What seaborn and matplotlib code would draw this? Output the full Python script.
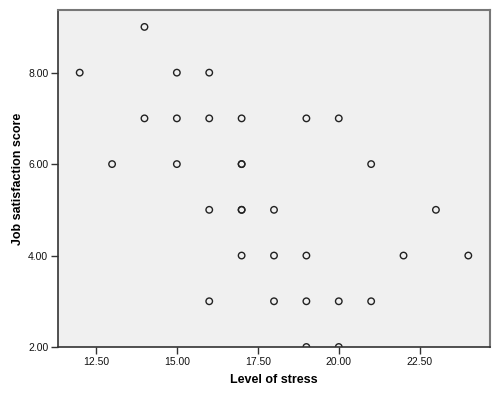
import matplotlib
matplotlib.use("Agg")
import matplotlib.pyplot as plt
import seaborn as sns
import pandas as pd
from matplotlib.ticker import FormatStrFormatter

# data (duplicates at (17,6) and (17,5))
stress = [12, 13, 14, 14, 15, 15, 15, 16, 16, 16, 16, 17, 17, 17, 17, 17, 17,
          18, 18, 18, 19, 19, 19, 19, 20, 20, 20, 21, 21, 22, 23, 24]
satisfaction = [8, 6, 9, 7, 8, 7, 6, 8, 7, 5, 3, 7, 6, 6, 5, 5, 4,
                5, 4, 3, 7, 4, 3, 2, 7, 3, 2, 6, 3, 4, 5, 4]

x_ticks = [12.5, 15.0, 17.5, 20.0, 22.5]
y_ticks = [2.0, 4.0, 6.0, 8.0]

data = pd.DataFrame({"stress": stress, "satisfaction": satisfaction})

sns.set_style("white")
plt.rcParams["font.family"] = ["Liberation Sans", "DejaVu Sans"]

fig = plt.figure(figsize=(5, 4), dpi=100)
ax = fig.add_axes([0.116, 0.1325, 0.864, 0.8425])
ax.set_facecolor("#f0f0f0")

sns.scatterplot(data=data, x="stress", y="satisfaction", ax=ax, marker="o",
                s=22, facecolor="none", edgecolor="#222222", linewidth=1.0)

ax.set_xlim(11.33, 24.67)
ax.set_ylim(2.0, 9.37)
ax.set_xticks(x_ticks)
ax.set_yticks(y_ticks)
ax.xaxis.set_major_formatter(FormatStrFormatter("%.2f"))
ax.yaxis.set_major_formatter(FormatStrFormatter("%.2f"))
ax.tick_params(axis="both", direction="out", length=5, width=1, labelsize=7.5,
               pad=2, color="#333333", labelcolor="#111111", bottom=True, left=True)

for side in ["top", "right"]:
    ax.spines[side].set_color("#777777")
    ax.spines[side].set_linewidth(1.5)
for side in ["left", "bottom"]:
    ax.spines[side].set_color("#333333")
    ax.spines[side].set_linewidth(1.2)

ax.set_xlabel("Level of stress", fontsize=9, fontweight="bold", labelpad=5, color="black")
ax.set_ylabel("Job satisfaction score", fontsize=9, fontweight="bold", labelpad=3, color="black")

plt.savefig("out.png", dpi=100)
